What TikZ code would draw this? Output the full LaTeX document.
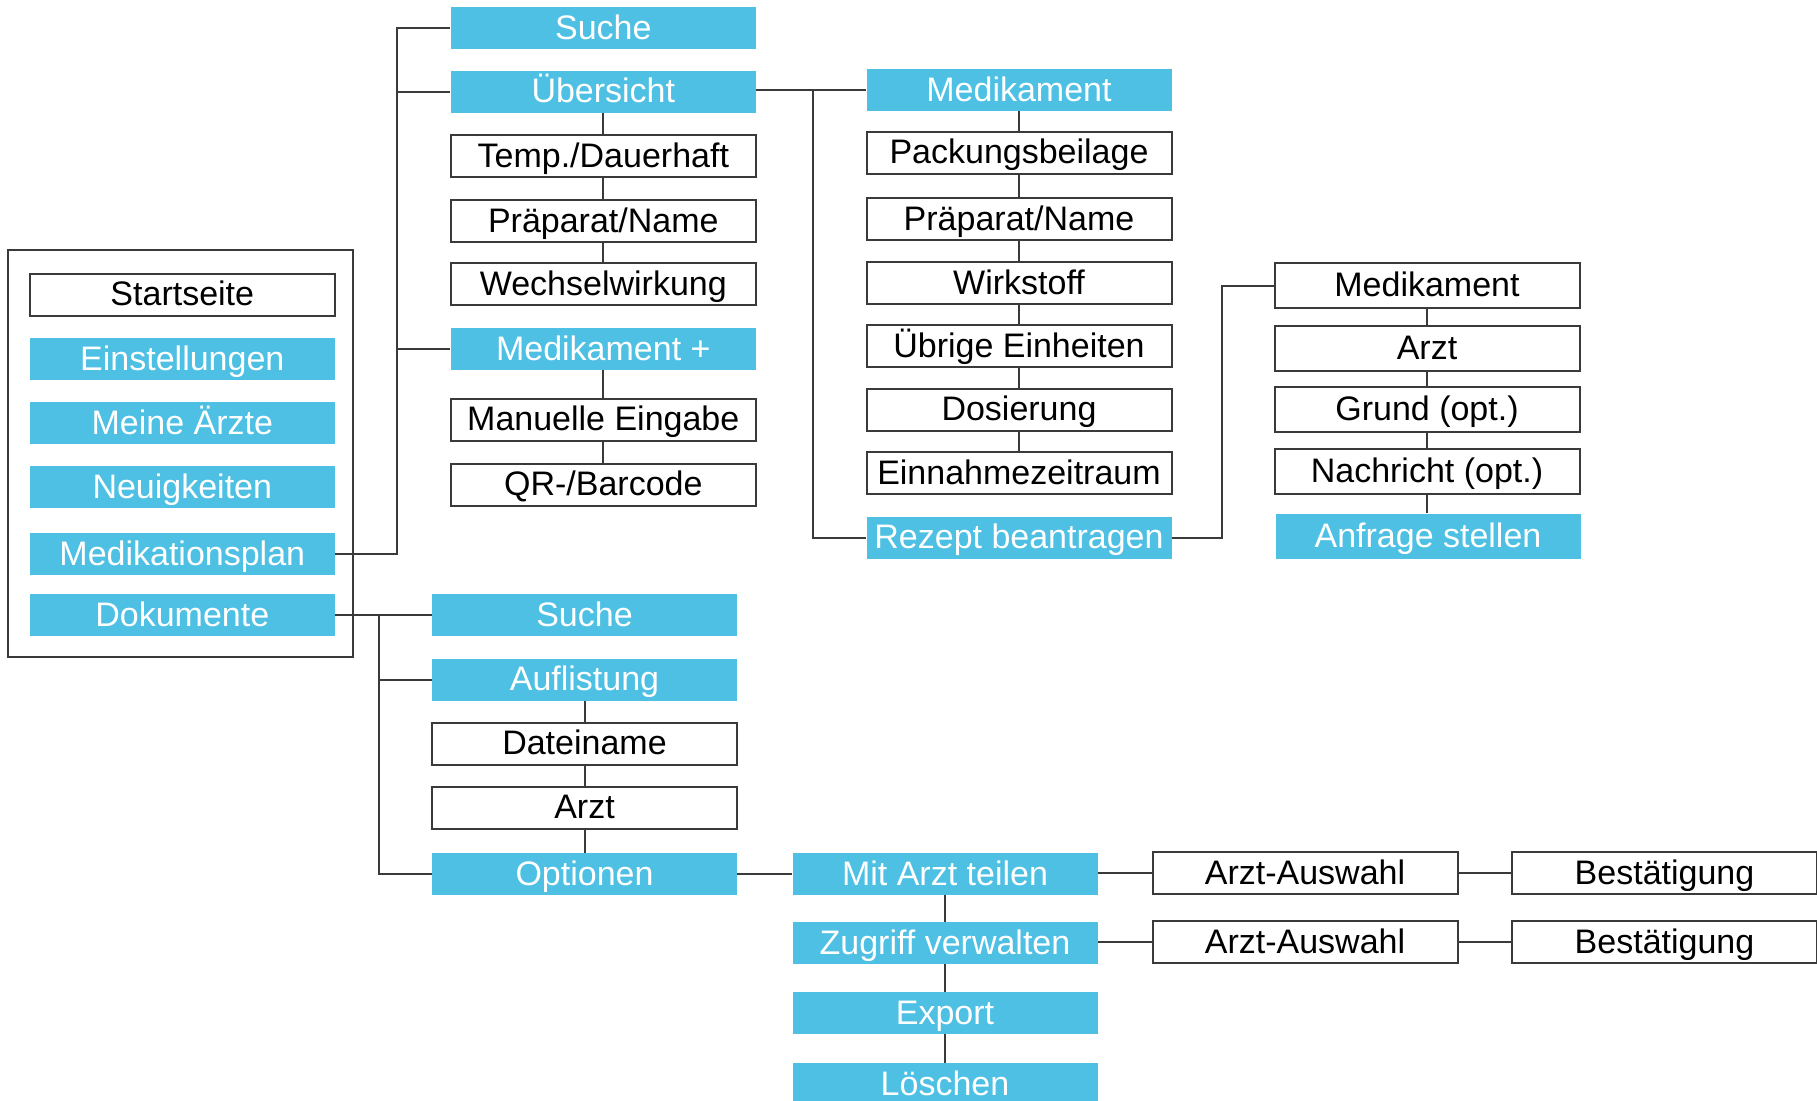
\documentclass[tikz,border=0pt]{standalone}
\usepackage{fontspec}
\setmainfont{Liberation Sans}
\definecolor{tileblue}{HTML}{4EC0E3}
\definecolor{wire}{HTML}{3A3A3A}
\begin{document}
\begin{tikzpicture}[x=0.5pt,y=-0.5pt,
  box/.style={minimum width=152.5pt, minimum height=21pt, inner sep=0pt,
    font=\fontsize{17}{20}\selectfont, text height=12.2pt, text depth=1pt},
  plain/.style={box, draw=wire, line width=1pt, fill=white, text=black},
  tile/.style={box, fill=tileblue, text=white},
  tall/.style={minimum height=22.5pt},
  wireline/.style={draw=wire, line width=1pt}]
\clip (0,0) rectangle (1817,1100);

% main menu frame
\node[draw=wire, line width=1pt, minimum width=172.6pt, minimum height=203.4pt,
  inner sep=0pt] (menu) at (180.4,453.4) {};
\node[plain] (start)   at (182.3,294.5) {Startseite};
\node[tile]  (settings) at (182.3,359)  {Einstellungen};
\node[tile]  (doctors) at (182.3,423)   {Meine Ärzte};
\node[tile]  (news)    at (182.3,487)   {Neuigkeiten};
\node[tile]  (medplan) at (182.3,554)   {Medikationsplan};
\node[tile]  (docs)    at (182.3,615)   {Dokumente};

% medication plan branch
\node[tile]  (psearch) at (603.3,28)    {Suche};
\node[tile]  (overview) at (603.3,91.5) {Übersicht};
\node[plain] (temp)    at (603.3,156)   {Temp./Dauerhaft};
\node[plain] (prepA)   at (603.3,221)   {Präparat/Name};
\node[plain] (inter)   at (603.3,284)   {Wechselwirkung};
\node[tile]  (medplus) at (603.3,349)   {Medikament +};
\node[plain] (manual)  at (603.3,419.5) {Manuelle Eingabe};
\node[plain] (qrcode)  at (603.3,484.5) {QR-/Barcode};

% medication detail
\node[tile]  (medA)    at (1019,90)     {Medikament};
\node[plain] (leaflet) at (1019,152.5)  {Packungsbeilage};
\node[plain] (prepB)   at (1019,219)    {Präparat/Name};
\node[plain] (agent)   at (1019,283)    {Wirkstoff};
\node[plain] (units)   at (1019,346)    {Übrige Einheiten};
\node[plain] (dosage)  at (1019,409.5)  {Dosierung};
\node[plain] (period)  at (1019,473)    {Einnahmezeitraum};
\node[tile]  (rx)      at (1019,537.5)  {Rezept beantragen};

% prescription request
\node[plain, tall] (medB)   at (1427,285.5) {Medikament};
\node[plain, tall] (rxdoc)  at (1427,348)   {Arzt};
\node[plain, tall] (reason) at (1427,409)   {Grund (opt.)};
\node[plain, tall] (note)   at (1427,471)   {Nachricht (opt.)};
\node[tile, tall]  (send)   at (1428,536)   {Anfrage stellen};

% documents branch
\node[tile]  (dsearch) at (584.5,615)   {Suche};
\node[tile]  (listing) at (584.5,679.5) {Auflistung};
\node[plain] (fname)   at (584.5,743.5) {Dateiname};
\node[plain] (ddoc)    at (584.5,807.5) {Arzt};
\node[tile]  (opts)    at (584.5,874)   {Optionen};

% document options
\node[tile]  (share)   at (945,874)     {Mit Arzt teilen};
\node[tile]  (access)  at (945,943)     {Zugriff verwalten};
\node[tile]  (export)  at (945,1013)    {Export};
\node[tile]  (delete)  at (945,1084)    {Löschen};
\node[plain] (pickA)   at (1305,873)    {Arzt-Auswahl};
\node[plain] (okA)     at (1664.5,873)  {Bestätigung};
\node[plain] (pickB)   at (1305,942)    {Arzt-Auswahl};
\node[plain] (okB)     at (1664.5,942)  {Bestätigung};

% spines of the tree
\coordinate (spineA) at (397,0);
\coordinate (spineB) at (813,0);
\coordinate (spineC) at (1222,0);
\coordinate (spineD) at (378.6,0);

\draw[wireline] (medplan.east) -- (medplan.east -| spineA) |- (psearch.west);
\draw[wireline] (overview.west -| spineA) -- (overview.west);
\draw[wireline] (medplus.west -| spineA) -- (medplus.west);
\draw[wireline] (overview.south) -- (temp.north);
\draw[wireline] (temp.south) -- (prepA.north);
\draw[wireline] (prepA.south) -- (inter.north);
\draw[wireline] (medplus.south) -- (manual.north);
\draw[wireline] (manual.south) -- (qrcode.north);

\draw[wireline] (medA.west -| overview.east) -- (medA.west);
\draw[wireline] (medA.west -| spineB) |- (rx.west);
\draw[wireline] (medA.south) -- (leaflet.north);
\draw[wireline] (leaflet.south) -- (prepB.north);
\draw[wireline] (prepB.south) -- (agent.north);
\draw[wireline] (agent.south) -- (units.north);
\draw[wireline] (units.south) -- (dosage.north);
\draw[wireline] (dosage.south) -- (period.north);

\draw[wireline] (rx.east) -- (rx.east -| spineC) |- (medB.west);
\draw[wireline] (medB.south) -- (rxdoc.north);
\draw[wireline] (rxdoc.south) -- (reason.north);
\draw[wireline] (reason.south) -- (note.north);
\draw[wireline] (note.south) -- (note.south |- send.north);

\draw[wireline] (docs.east) -- (dsearch.west);
\draw[wireline] (docs.east -| spineD) |- (opts.west);
\draw[wireline] (listing.west -| spineD) -- (listing.west);
\draw[wireline] (listing.south) -- (fname.north);
\draw[wireline] (fname.south) -- (ddoc.north);
\draw[wireline] (ddoc.south) -- (opts.north);

\draw[wireline] (opts.east) -- (share.west);
\draw[wireline] (pickA.west -| share.east) -- (pickA.west);
\draw[wireline] (pickA.east) -- (okA.west);
\draw[wireline] (pickB.west -| access.east) -- (pickB.west);
\draw[wireline] (pickB.east) -- (okB.west);
\draw[wireline] (share.south) -- (access.north);
\draw[wireline] (access.south) -- (export.north);
\draw[wireline] (export.south) -- (delete.north);
\end{tikzpicture}
\end{document}
